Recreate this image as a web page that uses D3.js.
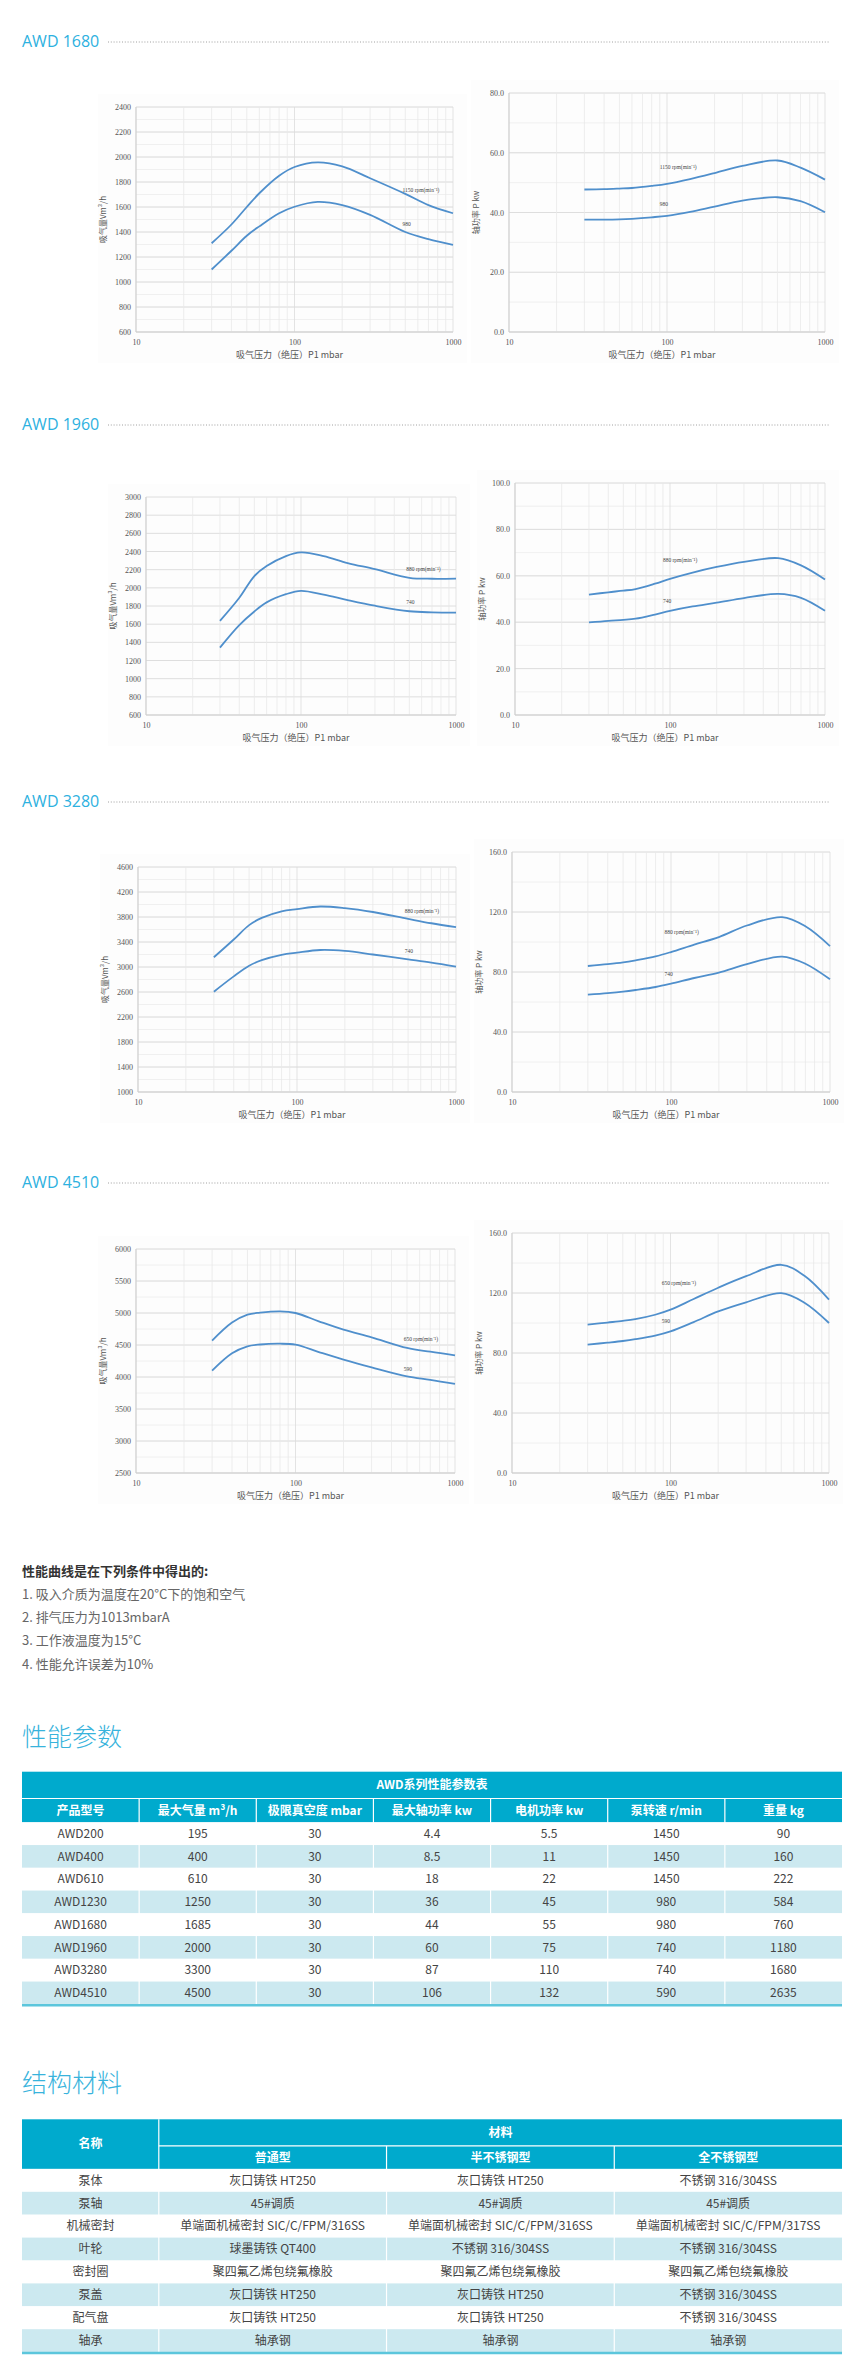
<!DOCTYPE html>
<html>
<head>
<meta charset="utf-8">
<script src="https://cdn.jsdelivr.net/npm/d3@7"></script>
<style>
body { margin: 0; background: #fff; }
svg text { font-family: "Noto Sans CJK SC", "Noto Sans", sans-serif; }
</style>
</head>
<body>
<div id="page"></div>
<script>
// ---- curve data ----
const pressure = [30, 40, 50, 60, 80, 100, 140, 200, 300, 500, 700, 1000];

const flow1680High = [1310, 1460, 1600, 1710, 1850, 1920, 1957, 1925, 1830, 1705, 1615, 1550];
const flow1680Low  = [1100, 1250, 1370, 1445, 1550, 1602, 1641, 1615, 1537, 1400, 1343, 1297];
const power1680High = [47.7, 47.8, 48.0, 48.2, 48.9, 49.6, 51.2, 53.2, 55.6, 57.4, 55.0, 51.0];
const power1680Low  = [37.6, 37.6, 37.7, 37.9, 38.4, 38.9, 40.2, 42.0, 44.0, 45.1, 43.8, 40.1];

const flow1960High = [1636, 1890, 2130, 2240, 2350, 2390, 2350, 2273, 2205, 2110, 2100, 2102];
const flow1960Low  = [1342, 1590, 1740, 1840, 1930, 1967, 1925, 1865, 1803, 1742, 1730, 1727];
const power1960High = [51.9, 52.9, 53.6, 54.3, 56.6, 58.7, 61.4, 63.8, 66.0, 67.6, 64.5, 58.4];
const power1960Low  = [39.9, 40.6, 41.0, 41.5, 43.3, 44.9, 46.8, 48.4, 50.4, 52.2, 50.5, 44.9];

const flow3280High = [3156, 3440, 3670, 3785, 3890, 3926, 3968, 3942, 3880, 3770, 3700, 3637];
const flow3280Low  = [2605, 2850, 3020, 3110, 3195, 3230, 3272, 3257, 3200, 3122, 3070, 3006];
const power3280High = [84.0, 85.2, 86.4, 87.8, 90.4, 93.3, 98.3, 103.3, 111.0, 116.6, 110.5, 97.3];
const power3280Low  = [64.9, 65.9, 66.9, 68.0, 70.0, 72.2, 76.0, 79.6, 85.2, 90.3, 85.5, 75.1];

const flow4510High = [4568, 4850, 4975, 5005, 5025, 5000, 4870, 4740, 4620, 4455, 4395, 4339];
const flow4510Low  = [4099, 4370, 4480, 4508, 4520, 4505, 4390, 4272, 4150, 4008, 3955, 3891];
const power4510High = [98.9, 100.3, 101.4, 102.6, 105.5, 108.9, 116.0, 123.5, 131.2, 138.8, 131.5, 115.6];
const power4510Low  = [85.6, 86.9, 88.0, 89.2, 91.6, 94.4, 100.6, 107.7, 113.8, 119.9, 113.5, 100.0];

const chartModels = ["AWD 1680", "AWD 1960", "AWD 3280", "AWD 4510"];
const rpmHigh = ["1150", "880", "880", "650"];
const rpmLow = ["980", "740", "740", "590"];
const flowDomains = [[600, 2400], [600, 3000], [1000, 4600], [2500, 6000]];
const flowSteps = [200, 200, 400, 500];
const powerDomains = [[0, 80], [0, 100], [0, 160], [0, 160]];
const powerSteps = [20, 20, 40, 40];
const xTicks = [10, 100, 1000];

// ---- notes ----
const noteTitle = "性能曲线是在下列条件中得出的:";
const notes = ["1. 吸入介质为温度在20°C下的饱和空气", "2. 排气压力为1013mbarA", "3. 工作液温度为15°C", "4. 性能允许误差为10%"];

// ---- table 1 ----
const perfHeaders = ["产品型号", "最大气量 m³/h", "极限真空度 mbar", "最大轴功率 kw", "电机功率 kw", "泵转速 r/min", "重量 kg"];
const models = ["AWD200", "AWD400", "AWD610", "AWD1230", "AWD1680", "AWD1960", "AWD3280", "AWD4510"];
const maxFlow = [195, 400, 610, 1250, 1685, 2000, 3300, 4500];
const ultimateVacuum = [30, 30, 30, 30, 30, 30, 30, 30];
const maxShaftPower = [4.4, 8.5, 18, 36, 44, 60, 87, 106];
const motorPower = [5.5, 11, 22, 45, 55, 75, 110, 132];
const pumpSpeed = [1450, 1450, 1450, 980, 980, 740, 740, 590];
const weight = [90, 160, 222, 584, 760, 1180, 1680, 2635];

// ---- table 2 ----
const materialTypes = ["普通型", "半不锈钢型", "全不锈钢型"];
const parts = ["泵体", "泵轴", "机械密封", "叶轮", "密封圈", "泵盖", "配气盘", "轴承"];
const normalType = ["灰口铸铁 HT250", "45#调质", "单端面机械密封 SIC/C/FPM/316SS", "球墨铸铁 QT400", "聚四氟乙烯包绕氟橡胶", "灰口铸铁 HT250", "灰口铸铁 HT250", "轴承钢"];
const semiStainless = ["灰口铸铁 HT250", "45#调质", "单端面机械密封 SIC/C/FPM/316SS", "不锈钢 316/304SS", "聚四氟乙烯包绕氟橡胶", "灰口铸铁 HT250", "灰口铸铁 HT250", "轴承钢"];
const fullStainless = ["不锈钢 316/304SS", "45#调质", "单端面机械密封 SIC/C/FPM/317SS", "不锈钢 316/304SS", "聚四氟乙烯包绕氟橡胶", "不锈钢 316/304SS", "不锈钢 316/304SS", "轴承钢"];

const flowSeries = [[flow1680High, flow1680Low], [flow1960High, flow1960Low], [flow3280High, flow3280Low], [flow4510High, flow4510Low]];
const powerSeries = [[power1680High, power1680Low], [power1960High, power1960Low], [power3280High, power3280Low], [power4510High, power4510Low]];
// where the rpm labels sit, in data units [pressure, value]
const flowLabelAt = [[[480, 1723], [480, 1448]], [[478, 2182], [478, 1818]], [[476, 3862], [476, 3220]], [[477, 4557], [477, 4099]]];
const powerLabelAt = [[[90, 54.6], [90, 42.1]], [[90, 65.8], [90, 48.4]], [[91, 105.6], [91, 77.3]], [[88, 125.6], [88, 100]]];

const blue = "#00aacd", lightBlue = "#cce9f0", titleBlue = "#2db1e0", curveBlue = "#4f8fcc";

const svg = d3.select("#page").append("svg")
    .attr("width", 860)
    .attr("height", 2370);

// layout of each model section
const sections = [
    { titleY: 41, left: [136, 453, 107], right: [509, 825, 93], minor: 100 },
    { titleY: 424, left: [146, 456, 497], right: [515, 825, 483], minor: 0 },
    { titleY: 801, left: [138, 456, 867], right: [512, 830, 852], minor: 200 },
    { titleY: 1182, left: [136, 455, 1249], right: [512, 829, 1233], minor: 250 }
];

const vGrid = [...d3.range(10, 100, 10), ...d3.range(100, 1000, 100), 1000];

function drawChart(c) {
    const x = d3.scaleLog().domain([10, 1000]).range([c.x0, c.x1]);
    const y = d3.scaleLinear().domain(c.domain).range([c.bottom, c.top]);
    const g = svg.append("g");

    // faint panel behind each pasted chart
    g.append("rect")
        .attr("x", c.x0 - 38).attr("y", c.top - 13)
        .attr("width", c.x1 - c.x0 + 52).attr("height", c.bottom - c.top + 44)
        .attr("fill", "#fdfdfd");

    if (c.minor) {
        g.selectAll(".hminor")
            .data(d3.range(c.domain[0], c.domain[1] + 1e-9, c.minor))
            .enter().append("line")
            .attr("x1", c.x0).attr("x2", c.x1)
            .attr("y1", d => y(d)).attr("y2", d => y(d))
            .attr("stroke", "#ececec").attr("stroke-width", 0.8);
    }
    const ticks = d3.range(c.domain[0], c.domain[1] + 1e-9, c.step);
    g.selectAll(".hmajor")
        .data(ticks)
        .enter().append("line")
        .attr("x1", c.x0).attr("x2", c.x1)
        .attr("y1", d => y(d)).attr("y2", d => y(d))
        .attr("stroke", "#dedede").attr("stroke-width", 1);

    g.selectAll(".vgrid")
        .data(vGrid)
        .enter().append("line")
        .attr("x1", d => x(d)).attr("x2", d => x(d))
        .attr("y1", c.top).attr("y2", c.bottom)
        .attr("stroke", d => (d === 10 || d === 100 || d === 1000) ? "#dcdcdc" : "#e8e8e8")
        .attr("stroke-width", 0.8);

    // axis lines
    g.append("line").attr("x1", c.x0).attr("x2", c.x0).attr("y1", c.top).attr("y2", c.bottom)
        .attr("stroke", "#cfcfcf");
    g.append("line").attr("x1", c.x0).attr("x2", c.x1).attr("y1", c.bottom).attr("y2", c.bottom)
        .attr("stroke", "#cfcfcf");

    const yAxis = g.append("g")
        .attr("transform", "translate(" + c.x0 + ",0)")
        .call(d3.axisLeft(y).tickValues(ticks).tickSize(0).tickPadding(5).tickFormat(c.format));
    const xAxis = g.append("g")
        .attr("transform", "translate(0," + c.bottom + ")")
        .call(d3.axisBottom(x).tickValues(xTicks).tickSize(0).tickPadding(7).tickFormat(d3.format("d")));
    [yAxis, xAxis].forEach(a => {
        a.select(".domain").remove();
        a.selectAll("text")
            .style("font-family", "'Liberation Serif', serif")
            .style("font-size", "8px")
            .attr("fill", "#555");
    });

    g.append("text")
        .attr("x", (c.x0 + c.x1) / 2 - 5)
        .attr("y", c.bottom + 26)
        .attr("text-anchor", "middle")
        .style("font-size", "9px")
        .attr("fill", "#555")
        .text("吸气压力（绝压）P1 mbar");

    g.append("text")
        .attr("transform", "translate(" + (c.x0 - 30) + "," + ((c.top + c.bottom) / 2) + ") rotate(-90)")
        .attr("text-anchor", "middle")
        .style("font-size", "8px")
        .attr("fill", "#555")
        .text(c.yTitle);

    const line = d3.line()
        .x(d => x(d[0]))
        .y(d => y(d[1]))
        .curve(d3.curveCatmullRom.alpha(0.5));

    c.series.forEach(s => {
        g.append("path")
            .datum(pressure.map((p, i) => [p, s[i]]))
            .attr("d", line)
            .attr("fill", "none")
            .attr("stroke", curveBlue)
            .attr("stroke-width", 1.8);
    });

    c.labels.forEach((l, i) => {
        g.append("text")
            .attr("x", x(l[0]))
            .attr("y", y(l[1]))
            .style("font-family", "'Liberation Serif', serif")
            .style("font-size", "5.5px")
            .attr("fill", "#444")
            .text(i === 0 ? c.rpm[0] + " rpm(min⁻¹)" : c.rpm[1]);
    });
}

sections.forEach((s, i) => {
    svg.append("text")
        .attr("x", 22).attr("y", s.titleY + 6)
        .style("font-family", "'Open Sans', sans-serif")
        .style("font-size", "16px")
        .attr("fill", titleBlue)
        .text(chartModels[i]);
    svg.append("line")
        .attr("x1", 108).attr("x2", 830)
        .attr("y1", s.titleY + 1).attr("y2", s.titleY + 1)
        .attr("stroke", "#888").attr("stroke-width", 0.8)
        .attr("stroke-dasharray", "1,1.8");

    const bottom = s.titleY + 291;
    drawChart({
        x0: s.left[0], x1: s.left[1], top: s.left[2], bottom: bottom,
        domain: flowDomains[i], step: flowSteps[i], minor: s.minor,
        format: d3.format("d"), series: flowSeries[i], labels: flowLabelAt[i],
        rpm: [rpmHigh[i], rpmLow[i]], yTitle: "吸气量Vm³/h"
    });
    drawChart({
        x0: s.right[0], x1: s.right[1], top: s.right[2], bottom: bottom,
        domain: powerDomains[i], step: powerSteps[i], minor: powerSteps[i] / 2,
        format: d3.format(".1f"), series: powerSeries[i], labels: powerLabelAt[i],
        rpm: [rpmHigh[i], rpmLow[i]], yTitle: "轴功率  P kw"
    });
});

// ---- notes ----
svg.append("text")
    .attr("x", 22).attr("y", 1576)
    .style("font-size", "13px").style("font-weight", "bold")
    .attr("fill", "#333")
    .text(noteTitle);
svg.selectAll(".note")
    .data(notes)
    .enter().append("text")
    .attr("x", 22)
    .attr("y", (d, i) => 1598.5 + i * 23.4)
    .style("font-size", "13px")
    .attr("fill", "#666")
    .text(d => d);

function sectionTitle(text, yBase) {
    svg.append("text")
        .attr("x", 22).attr("y", yBase)
        .style("font-size", "25px").style("font-weight", 300)
        .attr("fill", "#38b3dc")
        .text(text);
}
sectionTitle("性能参数", 1745.5);
sectionTitle("结构材料", 2092);

function cellText(g, x, y, text, bold) {
    g.append("text")
        .attr("x", x).attr("y", y).attr("dy", "0.36em")
        .attr("text-anchor", "middle")
        .style("font-size", "12px")
        .style("font-weight", bold ? "bold" : "normal")
        .attr("fill", bold ? "#fff" : "#444")
        .text(text);
}

// ---- table 1 ----
(function () {
    const t = svg.append("g");
    const left = 22, right = 842, top = 1771.7, titleH = 26.8, headH = 23.8, rowH = 22.75;
    const colX = d3.scaleBand().domain(d3.range(perfHeaders.length)).range([left, right]);
    const rows = models.map((m, i) => [m, maxFlow[i], ultimateVacuum[i], maxShaftPower[i], motorPower[i], pumpSpeed[i], weight[i]]);
    const headTop = top + titleH, bodyTop = headTop + headH;
    const rowY = d3.scaleBand().domain(d3.range(rows.length)).range([bodyTop, bodyTop + rowH * rows.length]);

    t.append("rect").attr("x", left).attr("y", top).attr("width", right - left).attr("height", titleH + headH).attr("fill", blue);
    t.selectAll(".row").data(rows).enter().append("rect")
        .attr("x", left).attr("y", (d, i) => rowY(i))
        .attr("width", right - left).attr("height", rowY.bandwidth())
        .attr("fill", (d, i) => i % 2 ? lightBlue : "#fff");
    t.append("line").attr("x1", left).attr("x2", right).attr("y1", headTop).attr("y2", headTop)
        .attr("stroke", "#fff").attr("stroke-width", 1.2);
    t.selectAll(".sep").data(d3.range(1, perfHeaders.length)).enter().append("line")
        .attr("x1", d => colX(d)).attr("x2", d => colX(d))
        .attr("y1", headTop).attr("y2", bodyTop + rowH * rows.length)
        .attr("stroke", "#fff").attr("stroke-width", 1.2);
    t.append("line").attr("x1", left).attr("x2", right)
        .attr("y1", bodyTop + rowH * rows.length + 1).attr("y2", bodyTop + rowH * rows.length + 1)
        .attr("stroke", "#5cc6dc").attr("stroke-width", 2.5);

    cellText(t, (left + right) / 2, top + titleH / 2, "AWD系列性能参数表", true);
    perfHeaders.forEach((h, j) => cellText(t, colX(j) + colX.bandwidth() / 2, headTop + headH / 2, h, true));
    rows.forEach((r, i) => r.forEach((v, j) =>
        cellText(t, colX(j) + colX.bandwidth() / 2, rowY(i) + rowH / 2, v, false)));
})();

// ---- table 2 ----
(function () {
    const t = svg.append("g");
    const left = 22, nameRight = 158.8, right = 842, top = 2119.3, topH = 26.6, subH = 23, rowH = 22.9;
    const colX = d3.scaleBand().domain(d3.range(materialTypes.length)).range([nameRight, right]);
    const rows = parts.map((p, i) => [normalType[i], semiStainless[i], fullStainless[i]]);
    const subTop = top + topH, bodyTop = subTop + subH, bodyBottom = bodyTop + rowH * rows.length;
    const rowY = d3.scaleBand().domain(d3.range(rows.length)).range([bodyTop, bodyBottom]);

    t.append("rect").attr("x", left).attr("y", top).attr("width", right - left).attr("height", topH + subH).attr("fill", blue);
    t.selectAll(".row").data(rows).enter().append("rect")
        .attr("x", left).attr("y", (d, i) => rowY(i))
        .attr("width", right - left).attr("height", rowY.bandwidth())
        .attr("fill", (d, i) => i % 2 ? lightBlue : "#fff");
    t.append("line").attr("x1", nameRight).attr("x2", right).attr("y1", subTop).attr("y2", subTop)
        .attr("stroke", "#fff").attr("stroke-width", 1.2);
    t.append("line").attr("x1", nameRight).attr("x2", nameRight).attr("y1", top).attr("y2", bodyBottom)
        .attr("stroke", "#fff").attr("stroke-width", 1.2);
    t.selectAll(".sep").data(d3.range(1, materialTypes.length)).enter().append("line")
        .attr("x1", d => colX(d)).attr("x2", d => colX(d))
        .attr("y1", subTop).attr("y2", bodyBottom)
        .attr("stroke", "#fff").attr("stroke-width", 1.2);
    t.append("line").attr("x1", left).attr("x2", right).attr("y1", bodyBottom + 1).attr("y2", bodyBottom + 1)
        .attr("stroke", "#5cc6dc").attr("stroke-width", 2.5);

    cellText(t, (left + nameRight) / 2, top + (topH + subH) / 2, "名称", true);
    cellText(t, (nameRight + right) / 2, top + topH / 2, "材料", true);
    materialTypes.forEach((m, j) => cellText(t, colX(j) + colX.bandwidth() / 2, subTop + subH / 2, m, true));
    parts.forEach((p, i) => {
        cellText(t, (left + nameRight) / 2, rowY(i) + rowH / 2, p, false);
        rows[i].forEach((v, j) => cellText(t, colX(j) + colX.bandwidth() / 2, rowY(i) + rowH / 2, v, false));
    });
})();
</script>
</body>
</html>
